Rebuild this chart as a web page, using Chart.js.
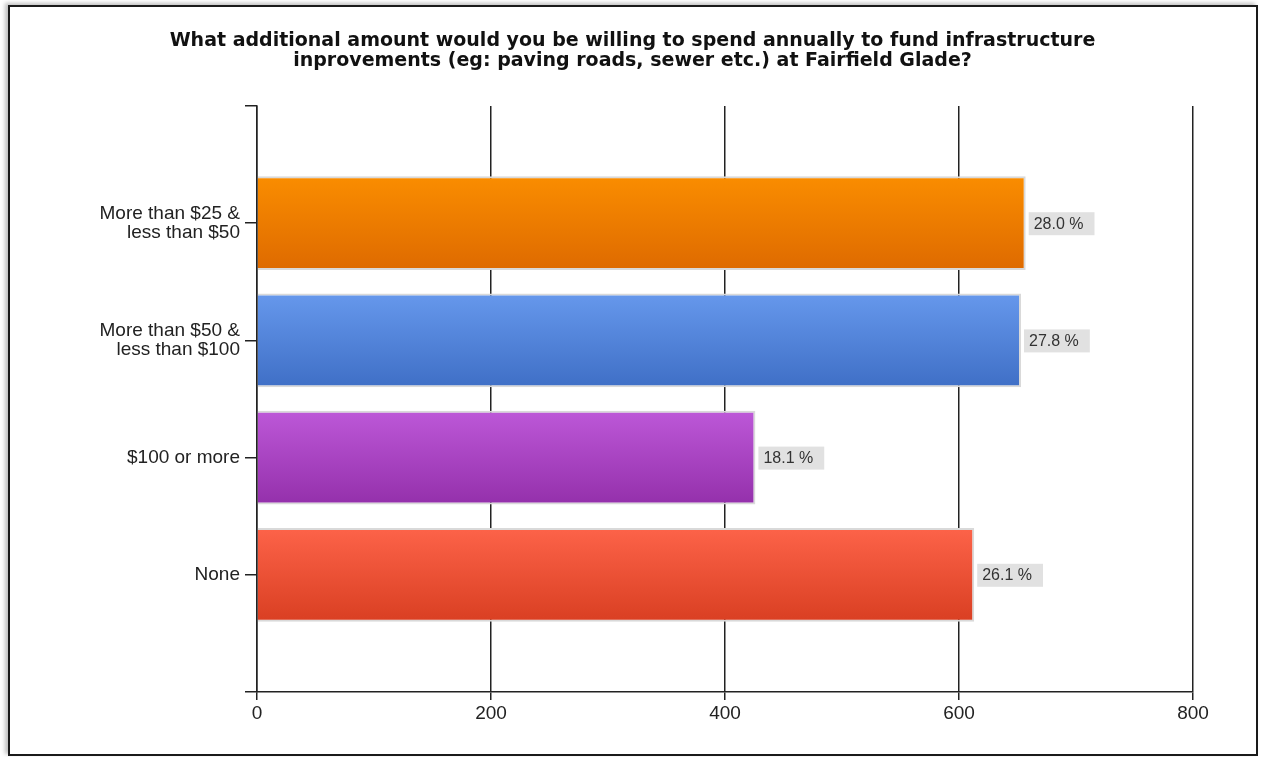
<!DOCTYPE html>
<html>
<head>
<meta charset="utf-8">
<title>Infrastructure spending survey</title>
<script src="https://cdn.jsdelivr.net/npm/chart.js@4"></script>
<style>
  html, body { margin: 0; padding: 0; background: #fff; }
  #frame {
    position: absolute; left: 8px; top: 5px;
    width: 1246px; height: 747px;
    border: 2px solid #1a1a1a;
    box-shadow: -3px -2px 4px rgba(0,0,0,0.25);
  }
  #wrap { position: absolute; left: 0; top: 0; width: 1261px; height: 757px; }
</style>
</head>
<body>
<div id="frame"></div>
<div id="wrap"><canvas id="surveyChart" width="1261" height="757"></canvas></div>
<script>
const questionTitle = [
  'What additional amount would you be willing to spend annually to fund infrastructure',
  'inprovements (eg: paving roads, sewer etc.) at Fairfield Glade?'
];
const answers = [
  ['More than $25 &', 'less than $50'],
  ['More than $50 &', 'less than $100'],
  '$100 or more',
  'None'
];
const responses = [657, 653, 426, 613];
const xMin = 0, xMax = 800, xStep = 200;

// gradient ends for each bar, top -> bottom
const topColors = ['#fa8d00', '#6698ec', '#bd58d8', '#fd6349'];
const bottomColors = ['#de6a00', '#3f6fc6', '#9430ab', '#d93f22'];

const FONT = "'Liberation Sans', Arial, sans-serif";
const TITLE_FONT = "'DejaVu Sans', Verdana, sans-serif";
const totalResponses = responses.reduce((a, b) => a + b, 0);

// blank slots at each end give the empty band above and below the bars
const labels = [''].concat(answers, ['']);
const values = [null].concat(responses, [null]);

function barFill(c) {
  const i = c.dataIndex - 1;
  const chart = c.chart;
  if (i < 0 || i >= responses.length) return '#ccc';
  if (!chart.chartArea) return topColors[i];
  const y = chart.scales.y.getPixelForValue(c.dataIndex);
  const g = chart.ctx.createLinearGradient(0, y - 47, 0, y + 47);
  g.addColorStop(0, topColors[i]);
  g.addColorStop(1, bottomColors[i]);
  return g;
}

const percentBoxes = {
  id: 'percentBoxes',
  afterDatasetsDraw(chart) {
    const ctx = chart.ctx;
    const meta = chart.getDatasetMeta(0);
    ctx.save();
    ctx.font = '16px ' + FONT;
    ctx.textBaseline = 'middle';
    meta.data.forEach((bar, idx) => {
      const v = values[idx];
      if (v == null) return;
      const txt = (v / totalResponses * 100).toFixed(1) + ' %';
      const w = ctx.measureText(txt).width;
      const x0 = bar.x + 3;
      ctx.fillStyle = '#e1e1e1';
      ctx.fillRect(x0, bar.y - 11, w + 16, 23);
      ctx.fillStyle = '#333';
      ctx.fillText(txt, x0 + 5, bar.y + 1);
    });
    ctx.restore();
  }
};

new Chart(document.getElementById('surveyChart'), {
  type: 'bar',
  data: {
    labels: labels,
    datasets: [{
      data: values,
      backgroundColor: barFill,
      borderColor: '#d9d9d9',
      borderWidth: 2,
      barPercentage: 0.8,
      categoryPercentage: 1
    }]
  },
  options: {
    indexAxis: 'y',
    responsive: false,
    animation: false,
    layout: { padding: { left: 4, right: 0, top: 0, bottom: 0 } },
    plugins: {
      legend: { display: false },
      tooltip: { enabled: false },
      title: {
        display: true,
        text: questionTitle,
        color: '#111',
        font: { family: TITLE_FONT, size: 19, weight: 'bold', lineHeight: 1.05 },
        padding: { top: 31, bottom: 35.1 }
      }
    },
    scales: {
      x: {
        min: xMin,
        max: xMax,
        ticks: {
          stepSize: xStep,
          color: '#222',
          padding: 2,
          font: { family: FONT, size: 19 }
        },
        grid: { color: '#222', lineWidth: 1.5, tickLength: 8 },
        border: { color: '#222', width: 1.5 },
        afterFit(s) { s.height = 65; }
      },
      y: {
        offset: false,
        ticks: {
          autoSkip: false,
          color: '#222',
          padding: 5,
          font: { family: FONT, size: 19, lineHeight: 0.98 }
        },
        grid: { offset: false, drawOnChartArea: false, color: '#222', lineWidth: 1.5, tickLength: 12 },
        border: { color: '#222', width: 1.5 },
        afterFit(s) { s.width = 253; }
      },
      // empty margin on the right, keeps the title centred on the page
      yRight: {
        type: 'linear',
        position: 'right',
        ticks: { display: false },
        grid: { display: false },
        border: { display: false },
        afterFit(s) { s.width = 68; }
      }
    }
  },
  plugins: [percentBoxes]
});
</script>
</body>
</html>
